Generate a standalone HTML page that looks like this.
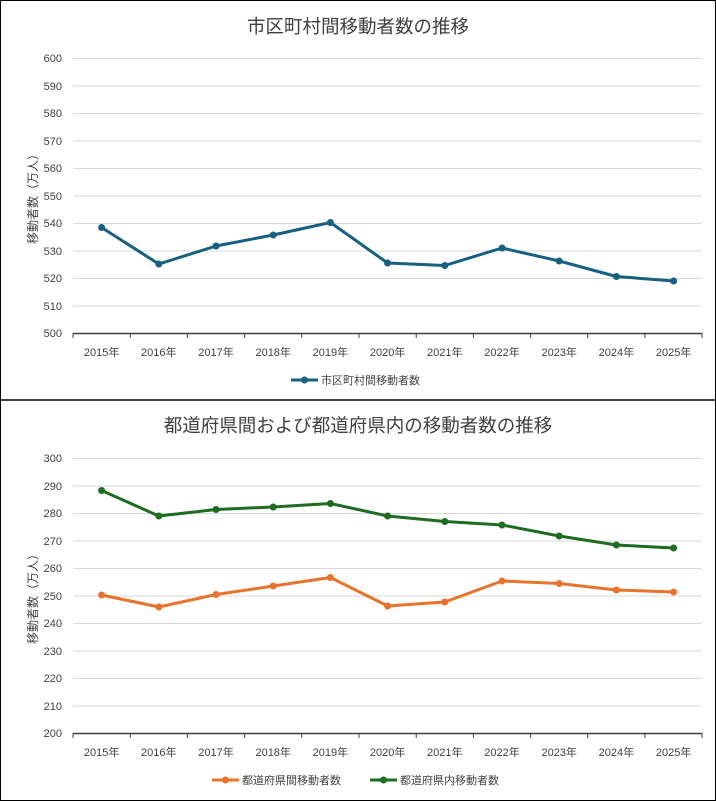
<!DOCTYPE html>
<html><head><meta charset="utf-8"><style>
body{margin:0;background:#fff}
svg{display:block;font-family:"Liberation Sans","Noto Sans CJK JP",sans-serif}
</style></head><body>
<svg width="716" height="801" viewBox="0 0 716 801" xmlns="http://www.w3.org/2000/svg">
<rect x="0.5" y="0.5" width="715" height="800" fill="#fff" stroke="#000"/>
<line x1="0" y1="400" x2="716" y2="400" stroke="#000" stroke-width="1.5"/>
<text x="358" y="33" font-size="18.5" text-anchor="middle" fill="#404040">市区町村間移動者数の推移</text>
<g stroke="#d9d9d9" stroke-width="1">
<line x1="73" x2="702" y1="58.5" y2="58.5"/><line x1="73" x2="702" y1="86" y2="86"/><line x1="73" x2="702" y1="113.5" y2="113.5"/><line x1="73" x2="702" y1="141" y2="141"/><line x1="73" x2="702" y1="168.5" y2="168.5"/><line x1="73" x2="702" y1="196" y2="196"/><line x1="73" x2="702" y1="223.5" y2="223.5"/><line x1="73" x2="702" y1="251" y2="251"/><line x1="73" x2="702" y1="278.5" y2="278.5"/><line x1="73" x2="702" y1="306" y2="306"/>
</g>
<g font-size="11" fill="#404040" text-anchor="end">
<text x="62" y="62">600</text><text x="62" y="90">590</text><text x="62" y="117">580</text><text x="62" y="145">570</text><text x="62" y="172">560</text><text x="62" y="200">550</text><text x="62" y="227">540</text><text x="62" y="255">530</text><text x="62" y="282">520</text><text x="62" y="310">510</text><text x="62" y="337">500</text>
</g>
<line x1="73" x2="702" y1="333.5" y2="333.5" stroke="#404040" stroke-width="1.5"/>
<g stroke="#404040"><line x1="73" x2="73" y1="333" y2="338"/><line x1="130.2" x2="130.2" y1="333" y2="338"/><line x1="187.4" x2="187.4" y1="333" y2="338"/><line x1="244.6" x2="244.6" y1="333" y2="338"/><line x1="301.8" x2="301.8" y1="333" y2="338"/><line x1="359" x2="359" y1="333" y2="338"/><line x1="416.2" x2="416.2" y1="333" y2="338"/><line x1="473.4" x2="473.4" y1="333" y2="338"/><line x1="530.6" x2="530.6" y1="333" y2="338"/><line x1="587.8" x2="587.8" y1="333" y2="338"/><line x1="645" x2="645" y1="333" y2="338"/><line x1="702" x2="702" y1="333" y2="338"/></g>
<g font-size="11" fill="#404040" text-anchor="middle">
<text x="101.6" y="356">2015年</text><text x="158.8" y="356">2016年</text><text x="216" y="356">2017年</text><text x="273.2" y="356">2018年</text><text x="330.4" y="356">2019年</text><text x="387.6" y="356">2020年</text><text x="444.8" y="356">2021年</text><text x="502" y="356">2022年</text><text x="559.2" y="356">2023年</text><text x="616.4" y="356">2024年</text><text x="673.6" y="356">2025年</text>
</g>
<text transform="translate(37,196) rotate(-90)" font-size="12" fill="#404040" text-anchor="middle">移動者数（万人）</text>
<polyline fill="none" stroke="#17607f" stroke-width="3" stroke-linejoin="round" points="101.6,227.5 158.8,264 216,246 273.2,235 330.4,222.5 387.6,263 444.8,265.5 502,248 559.2,261 616.4,276.5 673.6,281"/>
<g fill="#17607f"><circle cx="101.6" cy="227.5" r="3.5"/><circle cx="158.8" cy="264" r="3.5"/><circle cx="216" cy="246" r="3.5"/><circle cx="273.2" cy="235" r="3.5"/><circle cx="330.4" cy="222.5" r="3.5"/><circle cx="387.6" cy="263" r="3.5"/><circle cx="444.8" cy="265.5" r="3.5"/><circle cx="502" cy="248" r="3.5"/><circle cx="559.2" cy="261" r="3.5"/><circle cx="616.4" cy="276.5" r="3.5"/><circle cx="673.6" cy="281" r="3.5"/></g>
<line x1="291" x2="318" y1="380" y2="380" stroke="#17607f" stroke-width="3"/><circle cx="304.5" cy="380" r="3.5" fill="#17607f"/>
<text x="321" y="384" font-size="11" fill="#404040">市区町村間移動者数</text>

<text x="358" y="432" font-size="18.5" text-anchor="middle" fill="#404040">都道府県間および都道府県内の移動者数の推移</text>
<g stroke="#d9d9d9" stroke-width="1">
<line x1="73" x2="702" y1="458.5" y2="458.5"/><line x1="73" x2="702" y1="486" y2="486"/><line x1="73" x2="702" y1="513.5" y2="513.5"/><line x1="73" x2="702" y1="541" y2="541"/><line x1="73" x2="702" y1="568.5" y2="568.5"/><line x1="73" x2="702" y1="596" y2="596"/><line x1="73" x2="702" y1="623.5" y2="623.5"/><line x1="73" x2="702" y1="651" y2="651"/><line x1="73" x2="702" y1="678.5" y2="678.5"/><line x1="73" x2="702" y1="706" y2="706"/>
</g>
<g font-size="11" fill="#404040" text-anchor="end">
<text x="62" y="462">300</text><text x="62" y="490">290</text><text x="62" y="517">280</text><text x="62" y="545">270</text><text x="62" y="572">260</text><text x="62" y="600">250</text><text x="62" y="627">240</text><text x="62" y="655">230</text><text x="62" y="682">220</text><text x="62" y="710">210</text><text x="62" y="737">200</text>
</g>
<line x1="73" x2="702" y1="733.5" y2="733.5" stroke="#404040" stroke-width="1.5"/>
<g stroke="#404040"><line x1="73" x2="73" y1="733" y2="738"/><line x1="130.2" x2="130.2" y1="733" y2="738"/><line x1="187.4" x2="187.4" y1="733" y2="738"/><line x1="244.6" x2="244.6" y1="733" y2="738"/><line x1="301.8" x2="301.8" y1="733" y2="738"/><line x1="359" x2="359" y1="733" y2="738"/><line x1="416.2" x2="416.2" y1="733" y2="738"/><line x1="473.4" x2="473.4" y1="733" y2="738"/><line x1="530.6" x2="530.6" y1="733" y2="738"/><line x1="587.8" x2="587.8" y1="733" y2="738"/><line x1="645" x2="645" y1="733" y2="738"/><line x1="702" x2="702" y1="733" y2="738"/></g>
<g font-size="11" fill="#404040" text-anchor="middle">
<text x="101.6" y="756">2015年</text><text x="158.8" y="756">2016年</text><text x="216" y="756">2017年</text><text x="273.2" y="756">2018年</text><text x="330.4" y="756">2019年</text><text x="387.6" y="756">2020年</text><text x="444.8" y="756">2021年</text><text x="502" y="756">2022年</text><text x="559.2" y="756">2023年</text><text x="616.4" y="756">2024年</text><text x="673.6" y="756">2025年</text>
</g>
<text transform="translate(37,596) rotate(-90)" font-size="12" fill="#404040" text-anchor="middle">移動者数（万人）</text>
<polyline fill="none" stroke="#1e6b22" stroke-width="3" stroke-linejoin="round" points="101.6,490.5 158.8,516 216,509.5 273.2,507 330.4,503.5 387.6,516 444.8,521.5 502,525 559.2,536 616.4,545 673.6,548"/>
<g fill="#1e6b22"><circle cx="101.6" cy="490.5" r="3.5"/><circle cx="158.8" cy="516" r="3.5"/><circle cx="216" cy="509.5" r="3.5"/><circle cx="273.2" cy="507" r="3.5"/><circle cx="330.4" cy="503.5" r="3.5"/><circle cx="387.6" cy="516" r="3.5"/><circle cx="444.8" cy="521.5" r="3.5"/><circle cx="502" cy="525" r="3.5"/><circle cx="559.2" cy="536" r="3.5"/><circle cx="616.4" cy="545" r="3.5"/><circle cx="673.6" cy="548" r="3.5"/></g>
<polyline fill="none" stroke="#e8732c" stroke-width="3" stroke-linejoin="round" points="101.6,595 158.8,607 216,594.5 273.2,586 330.4,577.5 387.6,606 444.8,602 502,581 559.2,583.5 616.4,590 673.6,592"/>
<g fill="#e8732c"><circle cx="101.6" cy="595" r="3.5"/><circle cx="158.8" cy="607" r="3.5"/><circle cx="216" cy="594.5" r="3.5"/><circle cx="273.2" cy="586" r="3.5"/><circle cx="330.4" cy="577.5" r="3.5"/><circle cx="387.6" cy="606" r="3.5"/><circle cx="444.8" cy="602" r="3.5"/><circle cx="502" cy="581" r="3.5"/><circle cx="559.2" cy="583.5" r="3.5"/><circle cx="616.4" cy="590" r="3.5"/><circle cx="673.6" cy="592" r="3.5"/></g>
<line x1="212" x2="239" y1="780" y2="780" stroke="#e8732c" stroke-width="3"/><circle cx="225.5" cy="780" r="3.5" fill="#e8732c"/>
<text x="242" y="784" font-size="11" fill="#404040">都道府県間移動者数</text>
<line x1="370" x2="397" y1="780" y2="780" stroke="#1e6b22" stroke-width="3"/><circle cx="383.5" cy="780" r="3.5" fill="#1e6b22"/>
<text x="400" y="784" font-size="11" fill="#404040">都道府県内移動者数</text>
</svg>
</body></html>
